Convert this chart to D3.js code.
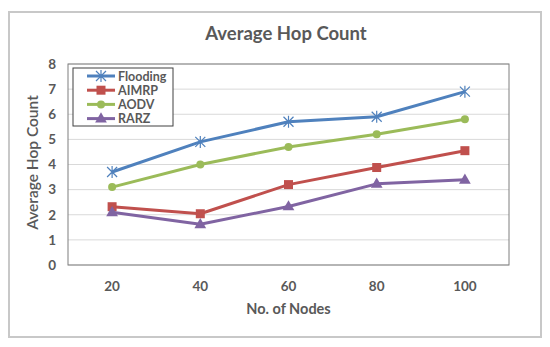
<!DOCTYPE html>
<html>
<head>
<meta charset="utf-8">
<script src="https://cdn.jsdelivr.net/npm/d3@7"></script>
<style>
  body { margin: 0; background: #fff; }
  text { font-family: Lato, "Open Sans", sans-serif; fill: #595959; }
</style>
</head>
<body>
<div id="chart"></div>
<script>
// chart data
var nodes = ["20", "40", "60", "80", "100"];
var yTicks = [0, 1, 2, 3, 4, 5, 6, 7, 8];
var seriesNames = ["Flooding", "AIMRP", "AODV", "RARZ"];
var flooding = [3.7, 4.9, 5.7, 5.9, 6.9];
var aimrp = [2.32, 2.04, 3.2, 3.88, 4.55];
var aodv = [3.1, 4.0, 4.7, 5.2, 5.8];
var rarz = [2.1, 1.62, 2.33, 3.23, 3.39];
var colors = ["#4F81BD", "#C0504D", "#9BBB59", "#8064A2"];

var series = [flooding, aimrp, aodv, rarz];

var W = 550, H = 347;
var margin = {top: 64, right: 41, bottom: 82, left: 68};
var width = W - margin.left - margin.right,
    height = H - margin.top - margin.bottom;

var svg = d3.select("#chart").append("svg")
    .attr("width", W).attr("height", H);

// outer frame
svg.append("rect")
    .attr("x", 9).attr("y", 12)
    .attr("width", 532).attr("height", 325)
    .attr("fill", "none")
    .attr("stroke", "#c8c8c8")
    .attr("stroke-width", 2);

svg.append("text")
    .attr("x", 286).attr("y", 40)
    .attr("text-anchor", "middle")
    .style("font-size", "18.5px")
    .style("font-weight", "bold")
    .text("Average Hop Count");

var g = svg.append("g")
    .attr("transform", `translate(${margin.left}, ${margin.top})`);

var x = d3.scaleBand().domain(nodes).range([0, width]);
var y = d3.scaleLinear().domain([0, 8]).range([height, 0]);

// gridlines
g.append("g")
    .selectAll("line")
    .data(yTicks)
    .enter().append("line")
    .attr("x1", 0).attr("x2", width)
    .attr("y1", d => y(d)).attr("y2", d => y(d))
    .attr("stroke", "#d9d9d9")
    .attr("stroke-width", 1);

// plot frame
g.append("rect")
    .attr("width", width).attr("height", height)
    .attr("fill", "none")
    .attr("stroke", "#7f7f7f")
    .attr("stroke-width", 1);

// y axis
var yAxis = g.append("g")
    .call(d3.axisLeft(y).tickValues(yTicks).tickSize(0).tickPadding(12));
yAxis.select(".domain").remove();
yAxis.selectAll("text")
    .style("font-size", "13.5px")
    .style("font-weight", "bold")
    .style("font-family", "Lato, sans-serif")
    .attr("fill", "#595959");

// x axis
var xAxis = g.append("g")
    .attr("transform", `translate(0, ${height})`)
    .call(d3.axisBottom(x).tickSize(0).tickPadding(16));
xAxis.select(".domain").remove();
xAxis.selectAll("text")
    .style("font-size", "13.5px")
    .style("font-weight", "bold")
    .style("font-family", "Lato, sans-serif")
    .attr("fill", "#595959");

svg.append("text")
    .attr("x", margin.left + width / 2).attr("y", 314)
    .attr("text-anchor", "middle")
    .style("font-size", "14.5px")
    .style("font-weight", "bold")
    .text("No. of Nodes");

svg.append("text")
    .attr("transform", `translate(38, ${margin.top + height / 2 - 2}) rotate(-90)`)
    .attr("text-anchor", "middle")
    .style("font-size", "15.5px")
    .style("font-weight", "600")
    .text("Average Hop Count");

var cx = d => x(d) + x.bandwidth() / 2;

function drawMarker(sel, i, px, py) {
    var c = colors[i];
    if (i === 0) {
        var s = 5;
        sel.append("path")
            .attr("d", `M${px - s},${py - s}L${px + s},${py + s}M${px - s},${py + s}L${px + s},${py - s}M${px},${py - s - 1}L${px},${py + s + 1}`)
            .attr("stroke", c).attr("stroke-width", 1.2).attr("fill", "none");
    } else if (i === 1) {
        sel.append("rect")
            .attr("x", px - 4.5).attr("y", py - 4.5)
            .attr("width", 9).attr("height", 9)
            .attr("fill", c);
    } else if (i === 2) {
        sel.append("circle")
            .attr("cx", px).attr("cy", py).attr("r", 4)
            .attr("fill", c);
    } else {
        sel.append("path")
            .attr("d", d3.symbol().type(d3.symbolTriangle).size(60)())
            .attr("transform", `translate(${px}, ${py + 0.5})`)
            .attr("fill", c);
    }
}

var line = d3.line()
    .x((d, j) => cx(nodes[j]))
    .y(d => y(d));

series.forEach((vals, i) => {
    g.append("path")
        .datum(vals)
        .attr("d", line)
        .attr("fill", "none")
        .attr("stroke", colors[i])
        .attr("stroke-width", 3)
        .attr("stroke-linejoin", "round");
    var mg = g.append("g");
    vals.forEach((v, j) => drawMarker(mg, i, cx(nodes[j]), y(v)));
});

// legend
var leg = svg.append("g");
leg.append("rect")
    .attr("x", 73).attr("y", 68)
    .attr("width", 100).attr("height", 58)
    .attr("fill", "#fff")
    .attr("stroke", "#404040")
    .attr("stroke-width", 1);

seriesNames.forEach((name, i) => {
    var ly = 76 + i * 14.2;
    leg.append("line")
        .attr("x1", 87).attr("x2", 115)
        .attr("y1", ly).attr("y2", ly)
        .attr("stroke", colors[i])
        .attr("stroke-width", 3);
    drawMarker(leg, i, 101, ly);
    leg.append("text")
        .attr("x", 118).attr("y", ly + 4.5)
        .style("font-size", "12.5px")
        .style("font-weight", "bold")
        .text(name);
});
</script>
</body>
</html>
